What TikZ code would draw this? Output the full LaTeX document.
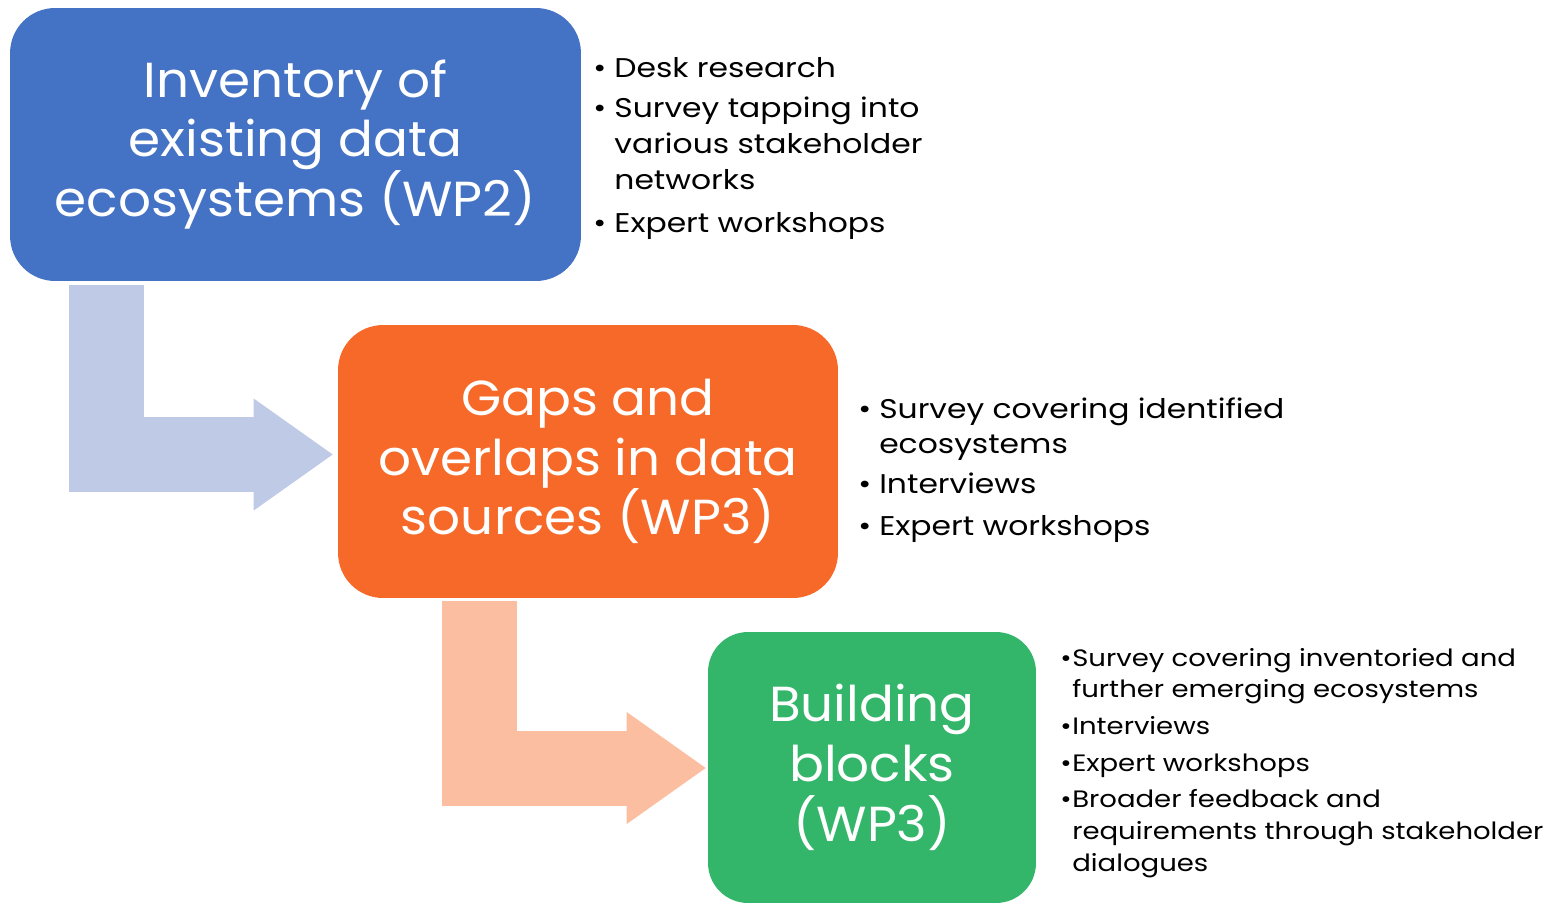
\documentclass[tikz,border=0pt]{standalone}
\usepackage{fontspec}
\setmainfont{Poppins}
\newfontfamily\boxfont{Poppins}[FakeStretch=1.05]
\newfontfamily\listfont{Poppins}[FakeStretch=1.16]
\usetikzlibrary{arrows.meta,calc}
\definecolor{invblue}{RGB}{68,114,196}
\definecolor{gaporange}{RGB}{246,105,40}
\definecolor{blockgreen}{RGB}{51,181,106}
\definecolor{invbluelight}{RGB}{191,202,230}
\definecolor{gaporangelight}{RGB}{251,190,160}
\newcommand{\listbul}[1]{\makebox[#1][l]{\textbullet}}

\begin{document}
\begin{tikzpicture}[x=0.02cm, y=-0.02cm,
    wpbox/.style={rounded corners=0.9cm, text=white, align=center, inner sep=0pt,
      font=\boxfont\fontsize{28}{34}\selectfont},
    bent/.style={line width=1.5cm, line join=miter},
    bentip/.style={-{Triangle[length=1.58cm,width=2.24cm,line width=0pt]}},
    steplist/.style={anchor=base west, inner sep=0pt, font=\listfont\fontsize{15.4}{20.4}\selectfont}]

\useasboundingbox (0,0) rectangle (1544,903);

% work package boxes
\node[wpbox, fill=invblue, minimum width=11.42cm, minimum height=5.46cm] (inventory) at (295.5,144.5)
  {Inventory of\\existing data\\ecosystems (WP2)};
\node[wpbox, fill=gaporange, minimum width=10cm, minimum height=5.46cm] (gaps) at (588,461.5)
  {Gaps and\\overlaps in data\\sources (WP3)};
\node[wpbox, fill=blockgreen, rounded corners=0.8cm, minimum width=6.56cm, minimum height=5.42cm] (blocks) at (872,767.5)
  {Building\\blocks\\(WP3)};

% bent arrows
\coordinate (inv tail) at ($(inventory.south west)+(96.5,4)$);
\coordinate (gaps tip) at ($(gaps.west)+(-5,-7)$);
\draw[bent, bentip, invbluelight] (inv tail) |- (gaps tip);

\coordinate (gaps tail) at ($(gaps.south west)+(141.5,3)$);
\coordinate (blocks tip) at ($(blocks.west)+(-2,0.5)$);
\draw[bent, bentip, gaporangelight] (gaps tail) |- (blocks tip);

% methods
\node[steplist] (inv list) at (593,77) {\begin{tabular}[t]{@{}l@{}l@{}}
  \listbul{12pt} & Desk research\\[2.8pt]
  \listbul{12pt} & Survey tapping into\\
                 & various stakeholder\\
                 & networks\\[4pt]
  \listbul{12pt} & Expert workshops
\end{tabular}};

\node[steplist] (gaps list) at (858,418) {\begin{tabular}[t]{@{}l@{}l@{}}
  \listbul{11.9pt} & Survey covering identified\\
                   & ecosystems\\[2pt]
  \listbul{11.9pt} & Interviews\\[3.5pt]
  \listbul{11.9pt} & Expert workshops
\end{tabular}};

\node[steplist, font=\listfont\fontsize{13.5}{18.1}\selectfont] (blocks list) at (1060,666) {\begin{tabular}[t]{@{}l@{}l@{}}
  \listbul{6.8pt} & Survey covering inventoried and\\
                  & further emerging ecosystems\\[2.8pt]
  \listbul{6.8pt} & Interviews\\[2.8pt]
  \listbul{6.8pt} & Expert workshops\\[2.8pt]
  \listbul{6.8pt} & Broader feedback and\\
                  & requirements through stakeholder\\
                  & dialogues
\end{tabular}};

\end{tikzpicture}
\end{document}
